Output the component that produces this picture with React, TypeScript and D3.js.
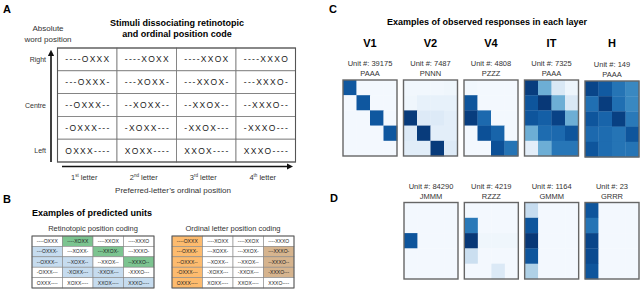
import React, { useEffect } from "react";
import * as d3 from "d3";

// ---------- DATA ----------
const stimuli: string[][] = [
  ["----OXXX", "----XOXX", "----XXOX", "----XXXO"],
  ["---OXXX-", "---XOXX-", "---XXOX-", "---XXXO-"],
  ["--OXXX--", "--XOXX--", "--XXOX--", "--XXXO--"],
  ["-OXXX---", "-XOXX---", "-XXOX---", "-XXXO---"],
  ["OXXX----", "XOXX----", "XXOX----", "XXXO----"],
];
const rowLabels = ["Right", "", "Centre", "", "Left"];
const ordinalLabels = [
  ["1", "st"],
  ["2", "nd"],
  ["3", "rd"],
  ["4", "th"],
];
// cell highlight codes: 0 none, 1 green, 2 blue, 3 orange, 4 tan
const retinotopicCoding = [
  [0, 1, 0, 0],
  [2, 0, 1, 0],
  [2, 2, 0, 1],
  [0, 2, 2, 0],
  [0, 0, 2, 2],
];
const ordinalCoding = [
  [3, 0, 0, 0],
  [3, 0, 0, 4],
  [3, 0, 0, 4],
  [3, 0, 0, 4],
  [3, 0, 0, 0],
];

const layerNames = ["V1", "V2", "V4", "IT", "H"];
const layerUnits = ["39175", "7487", "4808", "7325", "149"];
const layerWords = ["PAAA", "PNNN", "PZZZ", "PAAA", "PAAA"];
const v1Values = [
  [0.85, 0.02, 0.02, 0.02],
  [0.02, 0.85, 0.02, 0.02],
  [0.02, 0.02, 0.85, 0.02],
  [0.02, 0.02, 0.02, 0.85],
  [0.02, 0.02, 0.02, 0.02],
];
const v2Values = [
  [0.03, 0.03, 0.03, 0.04],
  [0.04, 0.08, 0.08, 0.08],
  [0.96, 0.13, 0.13, 0.1],
  [0.13, 0.96, 0.1, 0.1],
  [0.11, 0.11, 0.96, 0.13],
];
const v4Values = [
  [0.03, 0.02, 0.02, 0.02],
  [0.86, 0.02, 0.02, 0.02],
  [0.95, 0.78, 0.02, 0.02],
  [0.02, 0.88, 0.8, 0.02],
  [0.02, 0.02, 0.88, 0.74],
];
const itValues = [
  [0.95, 0.5, 0.15, 0.05],
  [0.86, 0.97, 0.5, 0.15],
  [0.86, 0.82, 0.93, 0.5],
  [0.5, 0.77, 0.78, 0.86],
  [0.1, 0.5, 0.73, 0.73],
];
const hValues = [
  [0.92, 0.84, 0.74, 0.66],
  [0.76, 0.95, 0.76, 0.66],
  [0.86, 0.8, 0.94, 0.72],
  [0.78, 0.77, 0.74, 0.86],
  [0.86, 0.77, 0.74, 0.74],
];
const layerValues = [v1Values, v2Values, v4Values, itValues, hValues];

const dUnits = ["84290", "4219", "1164", "23"];
const dWords = ["JMMM", "RZZZ", "GMMM", "GRRR"];
const jmmmValues = [
  [0.02, 0.02, 0.02, 0.02],
  [0.02, 0.02, 0.02, 0.02],
  [0.86, 0.02, 0.02, 0.02],
  [0.02, 0.02, 0.02, 0.02],
  [0.02, 0.02, 0.02, 0.02],
];
const rzzzValues = [
  [0.02, 0.02, 0.02, 0.02],
  [0.72, 0.02, 0.02, 0.02],
  [0.97, 0.04, 0.04, 0.04],
  [0.22, 0.02, 0.02, 0.02],
  [0.02, 0.02, 0.14, 0.02],
];
const gmmmValues = [
  [0.24, 0.02, 0.02, 0.02],
  [0.86, 0.02, 0.02, 0.02],
  [0.97, 0.02, 0.02, 0.02],
  [0.86, 0.02, 0.02, 0.02],
  [0.32, 0.02, 0.02, 0.02],
];
const grrrValues = [
  [0.86, 0.02, 0.02, 0.02],
  [0.74, 0.02, 0.02, 0.02],
  [0.92, 0.02, 0.02, 0.02],
  [0.9, 0.02, 0.02, 0.02],
  [0.86, 0.02, 0.02, 0.02],
];
const dValues = [jmmmValues, rzzzValues, gmmmValues, grrrValues];

// ---------- STYLE ----------
const FONT = "'Liberation Sans', Arial, sans-serif";
const highlightColors = ["#ffffff", "#7cc490", "#c6dcef", "#fdbb6e", "#d6b48e"];

function Heatmap({ x, y, w, h, values }: { x: number; y: number; w: number; h: number; values: number[][] }) {
  const cols = d3.scaleBand<number>().domain(d3.range(4)).range([x, x + w]);
  const rows = d3.scaleBand<number>().domain(d3.range(5)).range([y, y + h]);
  return (
    <g>
      {values.map((row, r) =>
        row.map((v, c) => (
          <rect
            key={`${r}-${c}`}
            x={cols(c)}
            y={rows(r)}
            width={cols.bandwidth() + 0.3}
            height={rows.bandwidth() + 0.3}
            fill={d3.interpolateBlues(v)}
          />
        ))
      )}
      <rect x={x} y={y} width={w} height={h} fill="none" stroke="#666" strokeWidth={1.4} />
    </g>
  );
}

function StimTable({
  x, y, w, h, fontSize, textLen, coding, stroke, sw,
}: {
  x: number; y: number; w: number; h: number; fontSize: number; textLen: number;
  coding?: number[][]; stroke: string; sw: number;
}) {
  const cols = d3.scaleBand<number>().domain(d3.range(4)).range([x, x + w]);
  const rows = d3.scaleBand<number>().domain(d3.range(5)).range([y, y + h]);
  return (
    <g>
      {stimuli.map((row, r) =>
        row.map((s, c) => (
          <g key={`${r}-${c}`}>
            <rect
              x={cols(c)}
              y={rows(r)}
              width={cols.bandwidth()}
              height={rows.bandwidth()}
              fill={highlightColors[coding ? coding[r][c] : 0]}
              stroke={stroke}
              strokeWidth={sw}
            />
            <text
              x={(cols(c) as number) + cols.bandwidth() / 2 - textLen / 2}
              y={(rows(r) as number) + rows.bandwidth() / 2 + fontSize * 0.36}
              fontSize={fontSize}
              fontFamily={FONT}
              textLength={textLen}
              lengthAdjust="spacing"
              fill="#222"
            >
              {s}
            </text>
          </g>
        ))
      )}
      <rect x={x} y={y} width={w} height={h} fill="none" stroke="#555" strokeWidth={sw + 0.3} />
    </g>
  );
}

export default function App() {
  useEffect(() => {
    document.body.style.margin = "0";
  }, []);

  const tableA = { x: 57.5, y: 48, w: 238, h: 114 };
  const rowA = d3.scaleBand<number>().domain(d3.range(5)).range([tableA.y, tableA.y + tableA.h]);
  const colA = d3.scaleBand<number>().domain(d3.range(4)).range([tableA.x, tableA.x + tableA.w]);

  const cX = d3.scaleLinear().domain([0, 4]).range([343, 585]);
  const dX = d3.scaleLinear().domain([0, 3]).range([404, 585]);
  const hmW = 54;

  return (
    <svg width={640} height={293} style={{ display: "block", background: "#fff" }} fontFamily={FONT}>
      <defs>
        <marker id="arr" viewBox="0 0 10 10" refX="5" refY="5" markerWidth="4" markerHeight="4" orient="auto-start-reverse">
          <path d="M0,0 L10,5 L0,10 z" fill="#111" />
        </marker>
      </defs>

      {/* Panel letters */}
      <text x={3} y={13} fontSize={11} fontWeight="bold">A</text>
      <text x={3} y={203} fontSize={11} fontWeight="bold">B</text>
      <text x={329} y={13} fontSize={11} fontWeight="bold">C</text>
      <text x={330} y={202} fontSize={11} fontWeight="bold">D</text>

      {/* Panel A */}
      <text x={177} y={26} fontSize={9} fontWeight="bold" textAnchor="middle">Stimuli dissociating retinotopic</text>
      <text x={177} y={37} fontSize={9} fontWeight="bold" textAnchor="middle">and ordinal position code</text>
      <text x={48} y={31} fontSize={8} textAnchor="middle" fill="#333">Absolute</text>
      <text x={48} y={42} fontSize={8} textAnchor="middle" fill="#333">word position</text>
      <StimTable x={tableA.x} y={tableA.y} w={tableA.w} h={tableA.h} fontSize={8.5} textLen={44} stroke="#777" sw={0.8} />
      {rowLabels.map((l, i) =>
        l ? (
          <text key={i} x={46} y={(rowA(i) as number) + rowA.bandwidth() / 2 + 2.5} fontSize={7} textAnchor="end" fill="#333">
            {l}
          </text>
        ) : null
      )}
      <line x1={51} y1={162} x2={51} y2={53} stroke="#111" strokeWidth={1.6} markerEnd="url(#arr)" />
      <line x1={62} y1={166.5} x2={290} y2={166.5} stroke="#111" strokeWidth={1.6} markerEnd="url(#arr)" />
      {ordinalLabels.map((l, i) => (
        <text key={i} x={(colA(i) as number) + colA.bandwidth() / 2 - 3} y={180} fontSize={7.5} textAnchor="middle" fill="#333">
          {l[0]}
          <tspan fontSize={4.5} dy={-3}>{l[1]}</tspan>
          <tspan dy={3}> letter</tspan>
        </text>
      ))}
      <text x={173} y={193} fontSize={8} textAnchor="middle" fill="#333">Preferred-letter’s ordinal position</text>

      {/* Panel B */}
      <text x={92} y={216} fontSize={9} fontWeight="bold" textAnchor="middle">Examples of predicted units</text>
      <text x={93} y={231} fontSize={7.5} textAnchor="middle" fill="#333">Retinotopic position coding</text>
      <text x={233} y={231} fontSize={7.5} textAnchor="middle" fill="#333">Ordinal letter position coding</text>
      <StimTable x={32} y={236} w={122} h={52} fontSize={5} textLen={21} coding={retinotopicCoding} stroke="#888" sw={0.6} />
      <StimTable x={172} y={236} w={122} h={52} fontSize={5} textLen={21} coding={ordinalCoding} stroke="#888" sw={0.6} />

      {/* Panel C */}
      <text x={487} y={25} fontSize={9} fontWeight="bold" textAnchor="middle">Examples of observed responses in each layer</text>
      {layerNames.map((n, i) => (
        <g key={n}>
          <text x={cX(i) + hmW / 2} y={47} fontSize={11} fontWeight="bold" textAnchor="middle">{n}</text>
          <text x={cX(i) + hmW / 2} y={i === 4 ? 67 : 66} fontSize={7.5} textAnchor="middle" fill="#333">Unit #: {layerUnits[i]}</text>
          <text x={cX(i) + hmW / 2} y={i === 4 ? 77 : 76} fontSize={7.5} textAnchor="middle" fill="#333">{layerWords[i]}</text>
          <Heatmap x={cX(i)} y={i === 4 ? 81 : 80} w={hmW} h={76} values={layerValues[i]} />
        </g>
      ))}

      {/* Panel D */}
      {dUnits.map((u, i) => (
        <g key={u}>
          <text x={dX(i) + hmW / 2} y={189} fontSize={7.5} textAnchor="middle" fill="#333">Unit #: {u}</text>
          <text x={dX(i) + hmW / 2} y={199} fontSize={7.5} textAnchor="middle" fill="#333">{dWords[i]}</text>
          <Heatmap x={dX(i)} y={202.5} w={hmW} h={76.5} values={dValues[i]} />
        </g>
      ))}
    </svg>
  );
}
